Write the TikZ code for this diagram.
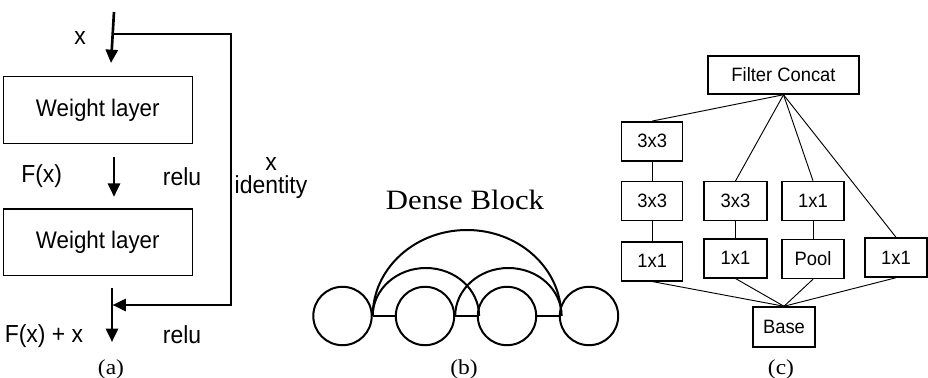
\documentclass[tikz,border=0pt]{standalone}
\usepackage{fontspec}
\setmainfont{Liberation Serif}
\newfontfamily\labelfont[FakeStretch=0.93]{Liberation Sans}
\newfontfamily\boxfont[FakeStretch=0.95]{Liberation Sans}
\newfontfamily\capfont[FakeStretch=1.1]{Liberation Serif}
\usetikzlibrary{arrows.meta}

\tikzset{
  lbl/.style={font=\labelfont\fontsize{18.5}{20}\selectfont, inner sep=0pt},
  layer/.style={draw, line width=1.1pt, minimum width=141.75pt, minimum height=50pt,
    inner sep=0pt, font=\labelfont\fontsize{18}{20}\selectfont},
  flow/.style={line width=2pt, -{Triangle[width=9pt,length=10pt]}},
  skip/.style={line width=2pt, -{Triangle[width=9pt,length=10pt]}},
  cell/.style={draw, circle, line width=1.5pt, minimum size=43.8pt, inner sep=0pt},
  link/.style={line width=1.5pt},
  cbox/.style={draw, line width=1.1pt, minimum width=45.75pt, minimum height=29.25pt,
    inner sep=0pt, font=\boxfont\fontsize{14.5}{16}\selectfont},
  thin/.style={line width=0.7pt},
  caption/.style={font=\capfont\fontsize{16}{18}\selectfont, inner sep=0pt, anchor=base},
}

\begin{document}
\begin{tikzpicture}[x=0.75pt, y=-0.75pt]
\useasboundingbox (0,0) rectangle (928,378);

% ---------------- (a) residual block ----------------
\node[layer] (w1) at (97.8,110) {Weight layer};
\node[layer] (w2) at (97.8,242.2) {Weight layer};

\coordinate (xin)  at (114,12);
\coordinate (xtip) at (111,63);
\coordinate (ax)   at (114,0);
\coordinate (split) at (113,34);
\coordinate (rt)   at (231,170);
\coordinate (join) at (112.5,305);
\coordinate (out)  at (112,342);

\draw[flow] (xin) -- (xtip);
\draw[flow, shorten <=10pt, shorten >=8.5pt] (w1.south -| ax) -- (w2.north -| ax);
\draw[flow, shorten <=9pt] (w2.south -| out) -- (out);
\draw[skip] (split) -| (rt) |- (join);

\node[lbl, anchor=base] (lx)   at (80,45)    {x};
\node[lbl, anchor=base] (lfx)  at (41.7,182) {F(x)};
\node[lbl, anchor=base] (lr1)  at (182,185) {relu};
\node[lbl, anchor=base] (lfxx) at (44,342) {F(x) + x};
\node[lbl, anchor=base] (lr2)  at (182,343) {relu};
\node[lbl, anchor=base] (lix)  at (271,170)  {x};
\node[lbl, anchor=base] (lid)  at (271,193)  {identity};

\node[caption] (capa) at (111,374) {(a)};

% ---------------- (b) dense block ----------------
\node[font=\capfont\fontsize{21}{24}\selectfont, anchor=base, inner sep=0pt] (dbt) at (465,209) {Dense Block};

\node[cell] (c1) at (342.5,316) {};
\node[cell] (c2) at (425,316)   {};
\node[cell] (c3) at (507,316)   {};
\node[cell] (c4) at (589,316)   {};

\draw[link] (c1.east) -- (c2.west);
\draw[link] (c2.east) -- (c3.west);
\draw[link] (c3.east) -- (c4.west);

\draw[link] (c1.east) arc[start angle=180, end angle=0, x radius=70.7pt, y radius=64.5pt];
\draw[link] (c1.east) arc[start angle=180, end angle=0, x radius=39.9pt, y radius=36pt];
\draw[link] (c2.east) arc[start angle=180, end angle=0, x radius=39.9pt, y radius=36pt];

\node[caption] (capb) at (464,374) {(b)};

% ---------------- (c) inception module ----------------
\node[cbox, minimum width=113.25pt, minimum height=28.5pt] (fc) at (783.5,75) {Filter Concat};

\node[cbox] (a1) at (652.2,141.3) {3x3};
\node[cbox] (a2) at (652.2,201.2) {3x3};
\node[cbox] (a3) at (652.2,261.3) {1x1};

\node[cbox, minimum width=47.25pt] (b1) at (735.5,201.2) {3x3};
\node[cbox, minimum width=47.25pt] (b2) at (735.5,258.3) {1x1};

\node[cbox, minimum width=46.5pt] (d1) at (813,201) {1x1};
\node[cbox, minimum width=46.5pt] (d2) at (813,259) {Pool};

\node[cbox, minimum width=46.5pt] (e1) at (896,257.5) {1x1};

\node[cbox, minimum width=46.5pt, minimum height=30pt] (base) at (784,327) {Base};

\draw[thin] (fc.south) -- (a1.north);
\draw[thin] (fc.south) -- (b1.north);
\draw[thin] (fc.south) -- (d1.north);
\draw[thin] (fc.south) -- (e1.north);

\draw[thin] (a1.south) -- (a2.north);
\draw[thin] (a2.south) -- (a3.north);
\draw[thin] (b1.south) -- (b2.north);
\draw[thin] (d1.south) -- (d2.north);

\draw[thin] (a3.south) -- (base.north);
\draw[thin] (b2.south) -- (base.north);
\draw[thin] (d2.south) -- (base.north);
\draw[thin] (e1.south) -- (base.north);

\node[caption] (capc) at (781,374) {(c)};
\end{tikzpicture}
\end{document}
